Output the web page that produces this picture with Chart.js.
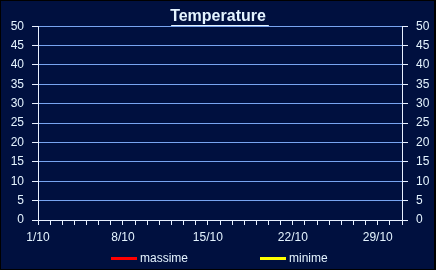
<!DOCTYPE html>
<html>
<head>
<meta charset="utf-8">
<script src="https://cdn.jsdelivr.net/npm/chart.js@4.4.1/dist/chart.umd.min.js"></script>
<style>
  html, body { margin: 0; padding: 0; background: #00103f; }
  #wrap { width: 436px; height: 270px; }
</style>
</head>
<body>
<div id="wrap"><canvas id="tempChart" width="436" height="270"></canvas></div>
<script>
// ==========================================
// DATA
// ==========================================
const days = [1, 2, 3, 4, 5, 6, 7, 8, 9, 10, 11, 12, 13, 14, 15, 16,
              17, 18, 19, 20, 21, 22, 23, 24, 25, 26, 27, 28, 29, 30, 31];
const labelDays = [1, 8, 15, 22, 29];
const tickLabels = ['1/10', '8/10', '15/10', '22/10', '29/10'];
const massime = [];   // no values plotted in the reference
const minime = [];
const yTicks = [0, 5, 10, 15, 20, 25, 30, 35, 40, 45, 50];

const textColor = '#e4f4ff';
const gridColor = '#78a4f0';
const axisColor = '#e8f0ff';
const fontFamily = "'Liberation Sans', sans-serif";

// ==========================================
// PLUGINS: background, frame, underlined title, legend
// ==========================================
const backdrop = {
    id: 'backdrop',
    beforeDraw(chart) {
        const c = chart.ctx;
        c.save();
        c.fillStyle = '#00103f';
        c.fillRect(0, 0, chart.width, chart.height);
        c.restore();
    },
    afterDraw(chart) {
        const c = chart.ctx;
        c.save();
        c.strokeStyle = '#000000';
        c.lineWidth = 1;
        c.strokeRect(0.5, 0.5, chart.width - 1, chart.height - 1);
        c.beginPath();
        c.moveTo(chart.width - 1.5, 0);
        c.lineTo(chart.width - 1.5, chart.height);
        c.stroke();

        // underline the title
        const tb = chart.titleBlock;
        const opts = chart.options.plugins.title;
        c.font = `${opts.font.weight} ${opts.font.size}px ${opts.font.family}`;
        const w = c.measureText(opts.text).width;
        const cx = (chart.chartArea.left + chart.chartArea.right) / 2;
        const y = Math.round(tb.top + opts.padding.top + opts.font.size * 1.15) + 0.5;
        c.strokeStyle = textColor;
        c.beginPath();
        c.moveTo(cx - w / 2 - 1, y);
        c.lineTo(cx + w / 2 + 1, y);
        c.stroke();

        // legend: line swatch + label for each dataset
        const ds = chart.data.datasets;
        const sw = 26, gap = 3, spacing = 72;
        c.font = `12px ${fontFamily}`;
        const widths = ds.map(d => sw + gap + c.measureText(d.label).width);
        const total = widths.reduce((a, b) => a + b, 0) + spacing * (ds.length - 1);
        let x = Math.round(cx - total / 2) - 1;
        const ly = 258.5;
        c.textBaseline = 'middle';
        c.textAlign = 'left';
        ds.forEach((d, i) => {
            c.strokeStyle = d.borderColor;
            c.lineWidth = 3;
            c.beginPath();
            c.moveTo(x, ly);
            c.lineTo(x + sw, ly);
            c.stroke();
            c.fillStyle = textColor;
            c.fillText(d.label, x + sw + gap, ly);
            x += widths[i] + spacing;
        });
        c.restore();
    }
};

function yScale(position, width) {
    return {
        type: 'linear',
        position: position,
        min: 0,
        max: 50,
        afterBuildTicks: s => { s.ticks = yTicks.map(v => ({ value: v })); },
        afterFit: s => { s.width = width; },
        ticks: { color: textColor, font: { family: fontFamily, size: 12 }, padding: 8, autoSkip: false },
        grid: { color: gridColor, tickColor: axisColor, tickLength: 6, lineWidth: 1 },
        border: { color: axisColor, width: 1 }
    };
}

// ==========================================
// CHART
// ==========================================
const ctx = document.getElementById('tempChart').getContext('2d');

new Chart(ctx, {
    type: 'line',
    data: {
        labels: days,
        datasets: [
            { label: 'massime', data: massime, borderColor: '#ff0000', backgroundColor: '#ff0000', borderWidth: 2, pointRadius: 0, yAxisID: 'y' },
            { label: 'minime', data: minime, borderColor: '#ffff00', backgroundColor: '#ffff00', borderWidth: 2, pointRadius: 0, yAxisID: 'y' }
        ]
    },
    plugins: [backdrop],
    options: {
        responsive: false,
        animation: false,
        layout: { padding: { left: 0, right: 0, top: 7, bottom: 24 } },
        plugins: {
            title: {
                display: true,
                text: 'Temperature',
                color: textColor,
                font: { family: fontFamily, size: 16, weight: 'bold' },
                padding: { top: 0, bottom: 0 }
            },
            legend: { display: false },
            tooltip: { enabled: false }
        },
        scales: {
            x: {
                type: 'linear',
                min: 1,
                max: 31,
                afterBuildTicks: s => { s.ticks = days.map(v => ({ value: v })); },
                afterFit: s => { s.height = 26; },
                ticks: {
                    color: textColor,
                    font: { family: fontFamily, size: 12 },
                    autoSkip: false,
                    maxRotation: 0,
                    padding: 5,
                    callback: v => {
                        const i = labelDays.indexOf(v);
                        return i >= 0 ? tickLabels[i] : '';
                    }
                },
                grid: { drawOnChartArea: false, tickColor: axisColor, tickLength: 5 },
                border: { color: axisColor, width: 1 }
            },
            y: yScale('left', 38),
            y2: yScale('right', 34)
        }
    }
});
</script>
</body>
</html>
